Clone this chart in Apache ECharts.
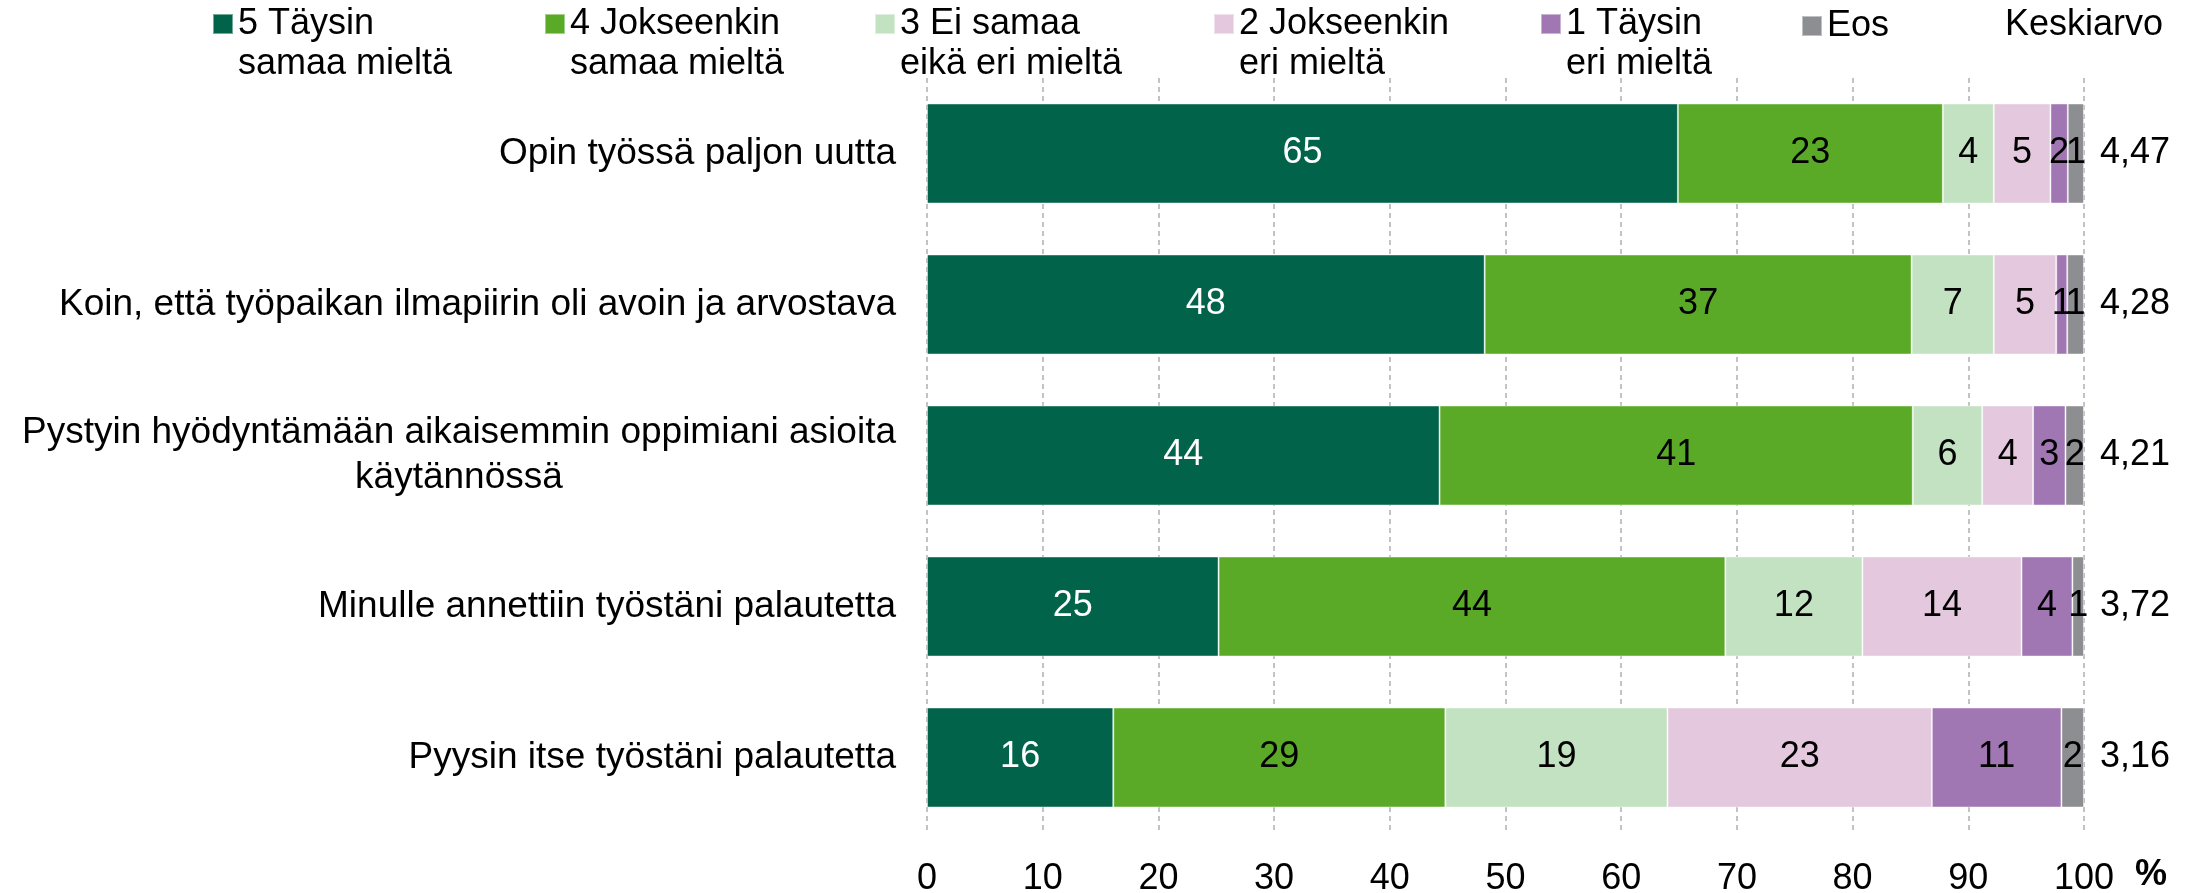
<!DOCTYPE html>
<html>
<head>
<meta charset="utf-8">
<script src="https://cdn.jsdelivr.net/npm/echarts@6/dist/echarts.min.js"></script>
<style>html,body{margin:0;padding:0;background:#fff}#c{width:2196px;height:893px}</style>
</head>
<body>
<div id="c"></div>
<script>
const categories = [
  'Opin työssä paljon uutta',
  'Koin, että työpaikan ilmapiirin oli avoin ja arvostava',
  'Pystyin hyödyntämään aikaisemmin oppimiani asioita\nkäytännössä',
  'Minulle annettiin työstäni palautetta',
  'Pyysin itse työstäni palautetta'
];
const seriesNames = ['5 Täysin\nsamaa mieltä', '4 Jokseenkin\nsamaa mieltä', '3 Ei samaa\neikä eri mieltä', '2 Jokseenkin\neri mieltä', '1 Täysin\neri mieltä', 'Eos'];
const s5 = [64.9, 48.2, 44.3, 25.2, 16.1];
const s4 = [22.9, 36.9, 40.9, 43.8, 28.7];
const s3 = [4.4, 7.1, 6.0, 11.85, 19.2];
const s2 = [4.9, 5.4, 4.4, 13.75, 22.85];
const s1 = [1.5, 0.95, 2.8, 4.4, 11.2];
const eos = [1.4, 1.45, 1.6, 1.0, 1.95];
const means = ['4,47', '4,28', '4,21', '3,72', '3,16'];
const xTicks = [0, 10, 20, 30, 40, 50, 60, 70, 80, 90, 100];

const colors = ['#00634A', '#5AAA28', '#C3E2C2', '#E3C8DE', '#A076B3', '#8D8E91'];
const labelColors = ['#fff', '#000', '#000', '#000', '#000', '#000'];
const seriesData = [s5, s4, s3, s2, s1, eos];
const FONT = '"Liberation Sans", Arial, sans-serif';

const legendLefts = [212, 544, 874, 1213, 1540, 1801];
const legends = seriesNames.map((n, i) => {
  const two = n.indexOf('\n') >= 0;
  return {
    data: [n],
    left: legendLefts[i],
    top: two ? -36 : 6,
    padding: 0,
    itemWidth: 20,
    itemHeight: 20,
    itemGap: 0,
    selectedMode: false,
    icon: 'rect',
    formatter: name => (name.indexOf('\n') >= 0 ? '\n' + name : name),
    textStyle: {fontFamily: FONT, fontSize: 36, color: '#000', lineHeight: 40}
  };
});

const chart = echarts.init(document.getElementById('c'), null, {renderer: 'canvas'});
chart.setOption({
  animation: false,
  backgroundColor: '#fff',
  color: colors,
  textStyle: {fontFamily: FONT},
  title: {
    text: 'Keskiarvo', left: 2005, top: 5, padding: 0,
    textStyle: {fontFamily: FONT, fontSize: 36, fontWeight: 'normal', color: '#000', lineHeight: 40}
  },
  legend: legends,
  grid: {left: 927, right: 112, top: 78, bottom: 60, containLabel: false, outerBoundsMode: 'none'},
  xAxis: {
    type: 'value', min: 0, max: 100, interval: 10,
    axisLine: {show: false}, axisTick: {show: false},
    axisLabel: {
      fontFamily: FONT, fontSize: 36, color: '#000', margin: 28,
      formatter: v => xTicks.indexOf(v) >= 0 ? String(v) : ''
    },
    splitLine: {show: true, lineStyle: {color: '#B0B0B0', width: 1.5, type: [5, 4]}},
    name: '%', nameLocation: 'end', nameGap: 51,
    nameTextStyle: {fontFamily: FONT, fontSize: 36, fontWeight: 'bold', color: '#000', lineHeight: 84, verticalAlign: 'top', align: 'left'}
  },
  yAxis: [{
    type: 'category', data: categories, inverse: true,
    axisLine: {show: false}, axisTick: {show: false},
    axisLabel: {
      fontFamily: FONT, fontSize: 37, color: '#000', margin: 31, lineHeight: 45,
      formatter: v => v.split('\n').map(l => '{c|' + l + '}').join('\n'),
      rich: {c: {fontFamily: FONT, fontSize: 37, color: '#000', lineHeight: 45, align: 'center'}}
    }
  }, {
    type: 'category', data: means, inverse: true, position: 'right',
    axisLine: {show: false}, axisTick: {show: false},
    axisLabel: {fontFamily: FONT, fontSize: 36, color: '#000', margin: 16, align: 'left'}
  }],
  series: seriesData.map((d, i) => ({
    name: seriesNames[i], type: 'bar', stack: 'all', data: d, barWidth: 100,
    yAxisIndex: 0,
    itemStyle: {color: colors[i], borderColor: 'rgba(255,255,255,0.45)', borderWidth: 1},
    label: {
      show: true, position: 'inside', fontFamily: FONT, fontSize: 36, color: labelColors[i],
      formatter: p => String(Math.round(p.value))
    }
  }))
});
</script>
</body>
</html>
